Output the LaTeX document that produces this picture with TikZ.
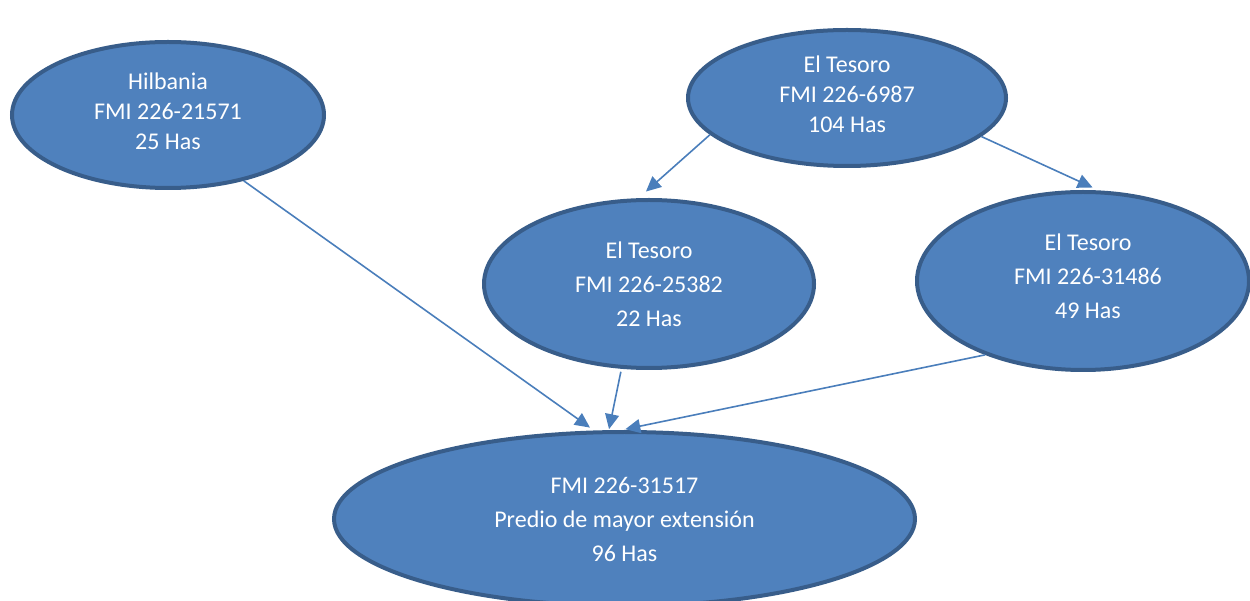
\documentclass[tikz,border=0pt]{standalone}
\usepackage{fontspec}
\setmainfont{Carlito}
\usetikzlibrary{shapes.geometric,arrows.meta}
\definecolor{ovfill}{HTML}{4F81BD}
\definecolor{ovline}{HTML}{385D8A}
\definecolor{arrcol}{HTML}{4A7EBB}
\begin{document}
\begin{tikzpicture}[x=1pt,y=1pt,
  oval/.style={ellipse,draw=ovline,fill=ovfill,line width=4pt,inner sep=0pt},
  txt/.style={text=white,align=center,inner sep=0pt},
  tight/.style={font=\fontsize{24}{30}\selectfont},
  loose/.style={font=\fontsize{24}{34}\selectfont},
  conn/.style={draw=arrcol,line width=1.6pt,-{Triangle[length=15pt,width=14pt]}}]
\useasboundingbox (0,0) rectangle (1250,600);
\node[oval,minimum width=312pt,minimum height=146pt] (hil) at (168,485) {};
\node[txt,tight] (hilt) at ([yshift=4pt]hil.center) {Hilbania\\FMI 226-21571\\25 Has};
\node[oval,minimum width=318pt,minimum height=136pt] (top) at (847,502) {};
\node[txt,tight] (topt) at ([yshift=4pt]top.center) {El Tesoro\\FMI 226-6987\\104 Has};
\node[oval,minimum width=330pt,minimum height=168pt] (mid) at (649,316) {};
\node[txt,loose] (midt) at (mid.center) {El Tesoro\\FMI 226-25382\\22 Has};
\node[oval,minimum width=332pt,minimum height=178pt] (rgt) at (1083,319) {};
\node[txt,loose] (rgtt) at ([xshift=5pt,yshift=5pt]rgt.center) {El Tesoro\\FMI 226-31486\\49 Has};
\node[oval,minimum width=581pt,minimum height=174pt] (bot) at (624.5,81) {};
\node[txt,loose] (bott) at (bot.center) {FMI 226-31517\\Predio de mayor extensión\\96 Has};
\draw[conn,shorten >=5pt] (hil.-41) -- (bot.109.5);
\draw[conn,shorten <=3pt,shorten >=1pt] (mid.252) -- (bot.100.2);
\draw[conn,shorten >=4pt] (rgt.217.7) -- (bot.92.5);
\draw[conn,shorten >=10pt] (top.195.2) -- (mid.97);
\draw[conn,shorten >=7pt] (top.-16.3) -- (rgt.80.7);
\end{tikzpicture}
\end{document}
